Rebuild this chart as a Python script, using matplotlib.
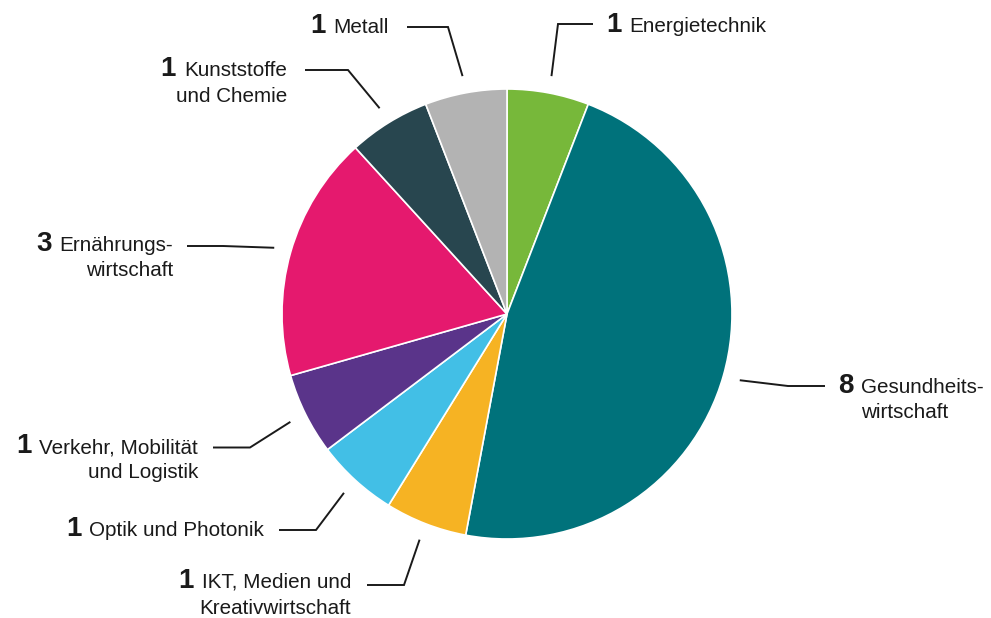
import matplotlib
matplotlib.use('Agg')
import matplotlib.pyplot as plt
import numpy as np

plt.rcParams['font.family'] = ['Liberation Sans', 'DejaVu Sans']

# ---- data ----
categories = ["Energietechnik", "Gesundheitswirtschaft", "IKT, Medien und Kreativwirtschaft",
              "Optik und Photonik", "Verkehr, Mobilität und Logistik", "Ernährungswirtschaft",
              "Kunststoffe und Chemie", "Metall"]
values = [1, 8, 1, 1, 1, 3, 1, 1]
label_lines = [["Energietechnik"], ["Gesundheits-", "wirtschaft"],
               ["IKT, Medien und", "Kreativwirtschaft"], ["Optik und Photonik"],
               ["Verkehr, Mobilität", "und Logistik"], ["Ernährungs-", "wirtschaft"],
               ["Kunststoffe", "und Chemie"], ["Metall"]]
colors = ["#77b83a", "#00727b", "#f6b323", "#42bfe6", "#5a348a", "#e5196e", "#28464f", "#b3b3b3"]

# ---- layout (pixel coords, y from top) ----
W, H = 991, 618
cx, cy, R = 507, 314, 225
# side, elbow x, elbow y, line end x, text anchor x, first baseline y
layout = [
    ("right", 558, 24, 593, 606, 32),
    ("right", 788, 386, 825, 838, 393),
    ("left", 404, 585, 367, 351, 588),
    ("left", 316, 530, 279, 264, 536),
    ("left", 250, 447.5, 213, 198, 453),
    ("left", 223, 246, 187, 173, 251),
    ("left", 348, 70, 305, 287, 76),
    ("left", 448, 27, 407, 389, 33),
]
line_gap = 25.5
txt_color = "#1a1a1a"
gap = 8

fig = plt.figure(figsize=(W / 100, H / 100), dpi=100)
ax = fig.add_axes([0, 0, 1, 1])
wedges, _ = ax.pie(values, colors=colors, startangle=90, counterclock=False,
                   radius=R, center=(cx, H - cy),
                   wedgeprops=dict(edgecolor='white', linewidth=1.2))
ax.set_xlim(0, W)
ax.set_ylim(0, H)
ax.set_aspect('equal')
ax.axis('off')

renderer = fig.canvas.get_renderer()

for w, val, lines, (side, ex, ey, lx, tx, by) in zip(wedges, values, label_lines, layout):
    th = np.deg2rad((w.theta1 + w.theta2) / 2)
    sx = cx + 242 * np.cos(th)
    sy = (H - cy) + 242 * np.sin(th)
    ax.plot([sx, ex, lx], [sy, H - ey, H - ey], color=txt_color, lw=1.4,
            solid_capstyle='butt', solid_joinstyle='miter')
    if side == "left":
        first = None
        for i, ln in enumerate(lines):
            t = ax.text(tx, H - (by + i * line_gap), ln, ha='right', va='baseline',
                        fontsize=14.9, color=txt_color)
            if i == 0:
                first = t
        bb = first.get_window_extent(renderer)
        ax.text(bb.x0 - gap, H - by, str(val), ha='right', va='baseline',
                fontsize=20, fontweight='bold', color=txt_color)
    else:
        n = ax.text(tx, H - by, str(val), ha='left', va='baseline',
                    fontsize=20, fontweight='bold', color=txt_color)
        bb = n.get_window_extent(renderer)
        for i, ln in enumerate(lines):
            ax.text(bb.x1 + gap, H - (by + i * line_gap), ln, ha='left', va='baseline',
                    fontsize=14.9, color=txt_color)

fig.savefig("out.png", dpi=100)
